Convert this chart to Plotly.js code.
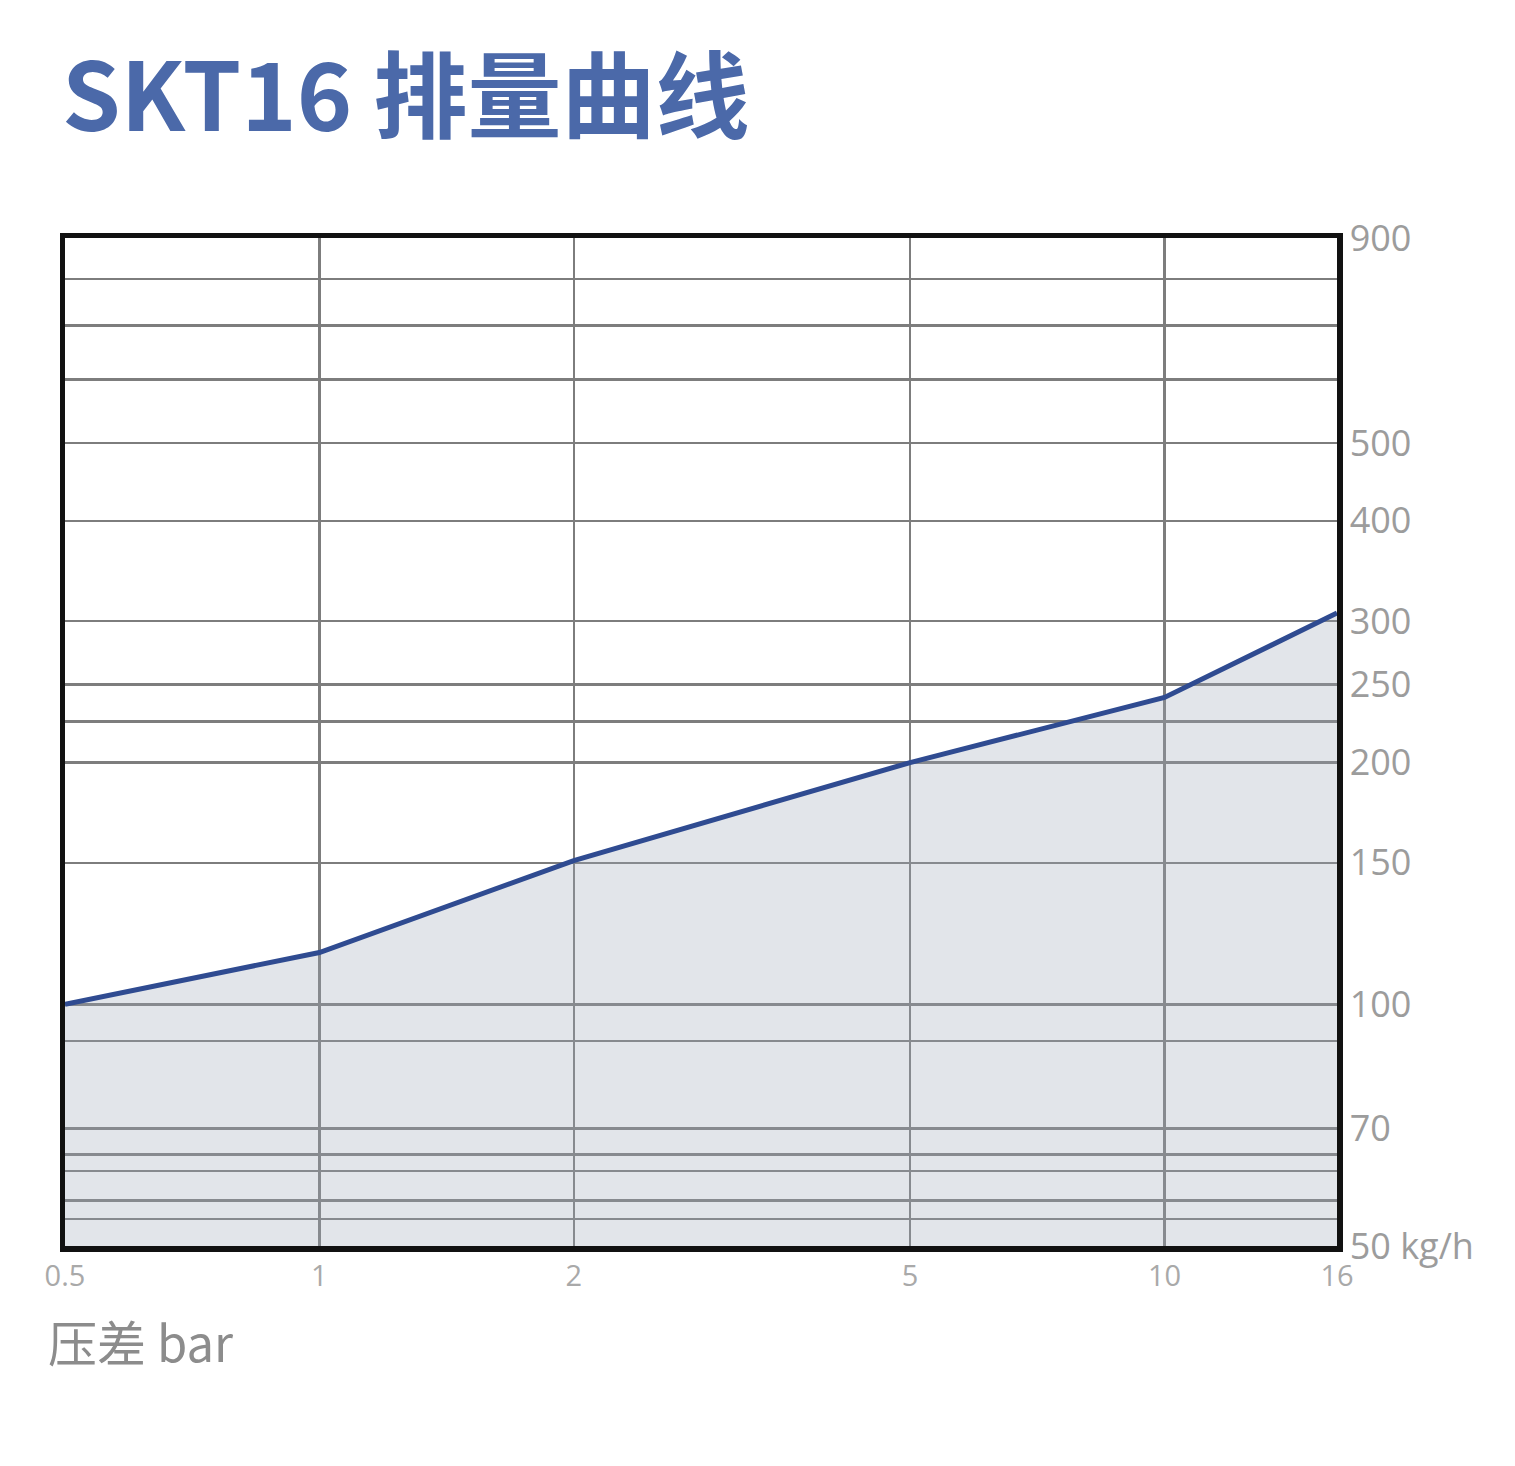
<!DOCTYPE html>
<html>
<head>
<meta charset="utf-8">
<script src="https://cdn.plot.ly/plotly-3.0.1.min.js"></script>
<style>
html,body{margin:0;padding:0;background:#ffffff;}
#chart{width:1515px;height:1466px;}
</style>
</head>
<body>
<div id="chart"></div>
<script>
// Data
const pressureBar = [0.5, 1, 2, 5, 10, 16];          // 压差 bar
const flowKgH     = [100, 116, 151, 200, 241, 307];  // 排量 kg/h
const baseFlow    = [50, 50, 50, 50, 50, 50];        // bottom of the axis (fill baseline)

const xTickVals  = [0.5, 1, 2, 5, 10, 16];
const xTickText  = ['0.5', '1', '2', '5', '10', '16'];
const yTickVals  = [54, 57, 62, 65, 70, 90, 100, 150, 200, 225, 250, 300, 400, 500, 600, 700, 800, 900];
const yTickText  = ['', '', '', '', '70', '', '100', '150', '200', '', '250', '300', '400', '500', '', '', '', '900'];
const yMin = 50, yMax = 900;

const titleText = 'SKT16 排量曲线';
const xLabel = '压差 bar';
const yUnit = ' kg/h';

const yTickTextFull = yTickText.slice();
yTickVals.unshift(yMin);
yTickTextFull.unshift(String(yMin) + yUnit);

const traces = [
  {
    x: pressureBar, y: baseFlow, type: 'scatter', mode: 'lines',
    line: {width: 0, color: 'rgba(0,0,0,0)'}, hoverinfo: 'skip', showlegend: false
  },
  {
    x: pressureBar, y: flowKgH, type: 'scatter', mode: 'lines',
    fill: 'tonexty', fillcolor: 'rgba(158,168,185,0.30)',
    line: {width: 5, color: '#2f4b91'}, showlegend: false
  }
];

const layout = {
  width: 1515, height: 1466,
  paper_bgcolor: '#ffffff', plot_bgcolor: '#ffffff',
  margin: {l: 65, r: 178, t: 238, b: 220},
  showlegend: false,
  title: {
    text: '<b>' + titleText + '</b>',
    font: {family: '"Noto Sans CJK SC", "Noto Sans", sans-serif', size: 94, color: '#4b69a9'},
    x: 62 / 1515, xref: 'container', xanchor: 'left',
    y: 1 - 98 / 1466, yref: 'container', yanchor: 'middle'
  },
  xaxis: {
    type: 'log',
    range: [Math.log10(0.5), Math.log10(16)],
    tickvals: xTickVals, ticktext: xTickText,
    showgrid: true, gridcolor: '#7d7d7d', gridwidth: 2.5,
    showline: true, mirror: true, linecolor: '#111111', linewidth: 5.5,
    zeroline: false, ticks: '',
    tickfont: {family: '"Open Sans", "Noto Sans", sans-serif', size: 29, color: '#a9a9a9'},
    fixedrange: true
  },
  yaxis: {
    type: 'log', side: 'right',
    range: [Math.log10(yMin), Math.log10(yMax)],
    tickvals: yTickVals, ticktext: yTickTextFull,
    showgrid: true, gridcolor: '#7d7d7d', gridwidth: 2.5,
    showline: true, mirror: true, linecolor: '#111111', linewidth: 5.5,
    zeroline: false, ticks: '',
    tickfont: {family: '"Open Sans", "Noto Sans", sans-serif', size: 36, color: '#9c9c9c'},
    fixedrange: true
  },
  annotations: [
    {
      text: xLabel, xref: 'paper', yref: 'paper',
      x: (46 - 65) / 1272, y: -(1340 - 1246) / 1008,
      xanchor: 'left', yanchor: 'middle', showarrow: false,
      font: {family: '"Noto Sans CJK SC", "Noto Sans", sans-serif', size: 49, color: '#8c8c8c'}
    }
  ]
};

Plotly.newPlot('chart', traces, layout, {staticPlot: true, displayModeBar: false});
</script>
</body>
</html>
